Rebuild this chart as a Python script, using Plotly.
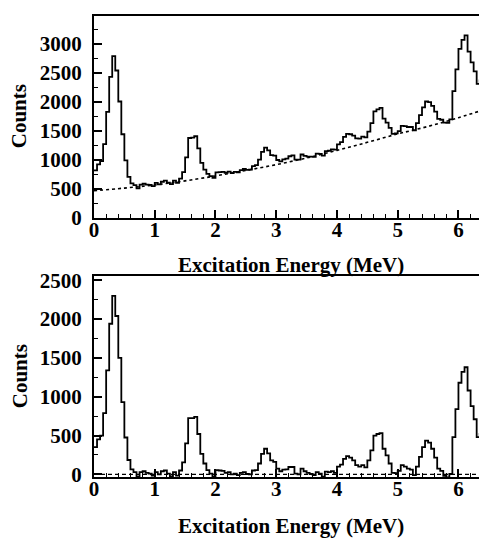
import numpy as np
import plotly.graph_objects as go

# ---------------- data ----------------
BIN_WIDTH = 0.05  # MeV, histogram bins start at 0

raw_counts = [
    815, 920, 975, 1270, 1825, 2430, 2790, 2540, 2005, 1440,
    990, 705, 590, 560, 505, 570, 585, 570, 565, 545,
    600, 575, 620, 640, 605, 580, 640, 600, 675, 785,
    1040, 1375, 1380, 1405, 1195, 945, 830, 755, 715, 685,
    780, 785, 790, 775, 795, 770, 790, 780, 820, 840,
    825, 830, 890, 905, 1000, 1135, 1210, 1160, 1080, 1070,
    995, 970, 1005, 1020, 1060, 1075, 1000, 1000, 1090, 1065,
    1055, 1055, 1050, 1105, 1100, 1070, 1150, 1155, 1180, 1175,
    1265, 1305, 1395, 1445, 1440, 1415, 1370, 1365, 1400, 1385,
    1485, 1630, 1835, 1870, 1895, 1710, 1640, 1550, 1445, 1455,
    1495, 1585, 1580, 1565, 1565, 1505, 1630, 1770, 1905, 2005,
    1995, 1930, 1830, 1705, 1690, 1640, 1635, 1695, 2185, 2560,
    2915, 3070, 3145, 2865, 2680, 2525, 2310, 2370, 2265, 2250,
]

net_counts = [
    350, 450, 500, 790, 1340, 1940, 2300, 2040, 1500, 930,
    475, 185, 65, 30, -30, 30, 40, 20, 10, -15,
    30, 0, 40, 50, 10, -25, 30, -15, 50, 155,
    400, 725, 725, 740, 520, 265, 140, 55, 10, -30,
    55, 50, 45, 20, 30, 0, 10, -10, 20, 30,
    5, 0, 50, 55, 140, 265, 330, 270, 180, 160,
    75, 40, 60, 65, 95, 95, 10, 0, 75, 40,
    20, 5, -10, 30, 10, -30, 35, 30, 40, 20,
    100, 125, 200, 235, 215, 180, 120, 100, 120, 90,
    180, 310, 500, 520, 530, 330, 245, 140, 20, 15,
    45, 120, 100, 75, 60, -10, 100, 225, 350, 435,
    410, 330, 215, 75, 45, -20, -40, 5, 480, 840,
    1180, 1320, 1380, 1080, 880, 710, 480, 520, 400, 370,
]

bg_energy = [0, 0.5, 1.0, 1.5, 2.0, 2.5, 3.0, 3.5, 4.0, 4.5, 5.0, 5.5, 6.0, 6.5]
bg_counts = [465, 510, 565, 635, 720, 815, 915, 1030, 1160, 1300, 1445, 1575, 1725, 1890]

zero_energy = [0, 6.5]
zero_counts = [0, 0]

x_tick_vals = [0, 1, 2, 3, 4, 5, 6]
top_y_ticks = [0, 500, 1000, 1500, 2000, 2500, 3000]
bot_y_ticks = [0, 500, 1000, 1500, 2000, 2500]

x_title = "Excitation Energy (MeV)"
y_title = "Counts"

# ---------------- build histogram step coordinates ----------------
edges = np.arange(len(raw_counts) + 1) * BIN_WIDTH
step_x = list(edges)
raw_y = list(raw_counts) + [raw_counts[-1]]
net_y = list(net_counts) + [net_counts[-1]]

FONT = "Liberation Serif, Times New Roman, serif"

fig = go.Figure()
fig.add_trace(go.Scatter(x=step_x, y=raw_y, mode="lines", line=dict(shape="hv", color="black", width=1.8),
                         xaxis="x", yaxis="y", showlegend=False, hoverinfo="skip"))
fig.add_trace(go.Scatter(x=bg_energy, y=bg_counts, mode="lines",
                         line=dict(shape="spline", color="black", width=1.6, dash="3px,3px"),
                         xaxis="x", yaxis="y", showlegend=False, hoverinfo="skip"))
fig.add_trace(go.Scatter(x=zero_energy, y=zero_counts, mode="lines",
                         line=dict(color="black", width=1.2, dash="4px,3px"),
                         xaxis="x2", yaxis="y2", showlegend=False, hoverinfo="skip"))
fig.add_trace(go.Scatter(x=step_x, y=net_y, mode="lines", line=dict(shape="hv", color="black", width=1.8),
                         xaxis="x2", yaxis="y2", showlegend=False, hoverinfo="skip"))

tickfont = dict(family=FONT, size=21, color="black", weight="bold")

def xaxis_style(anchor):
    return dict(
        anchor=anchor, domain=[0, 1], range=[0, 6.47],
        showline=True, linecolor="black", linewidth=2, mirror=True,
        ticks="inside", ticklen=8, tickwidth=1.5, tickcolor="black",
        tickvals=x_tick_vals, tickfont=tickfont, ticklabelstandoff=-8,
        minor=dict(dtick=0.2, ticks="inside", ticklen=4, tickwidth=1.2, tickcolor="black"),
        showgrid=False, zeroline=False, fixedrange=True,
    )

def yaxis_style(anchor, domain, rng, tv):
    return dict(
        anchor=anchor, domain=domain, range=rng,
        showline=True, linecolor="black", linewidth=2, mirror=False,
        ticks="inside", ticklen=8, tickwidth=1.5, tickcolor="black",
        tickvals=tv, tickfont=tickfont, ticklabelstandoff=6,
        minor=dict(dtick=250, tick0=0, ticks="inside", ticklen=4, tickwidth=1.2, tickcolor="black"),
        showgrid=False, zeroline=False, fixedrange=True,
    )

# The page body has an 8px default margin, so the figure is made smaller and offset.
fig.update_layout(
    width=479, height=532,
    margin=dict(l=86, r=0, t=1, b=63),
    paper_bgcolor="white", plot_bgcolor="white",
    xaxis=xaxis_style("y"),
    yaxis=yaxis_style("x", [0.5626, 1.0], [0, 3481], top_y_ticks),
    xaxis2=xaxis_style("y2"),
    yaxis2=yaxis_style("x2", [0.0, 0.4353], [-34, 2551], bot_y_ticks),
    showlegend=False,
)

title_font = dict(family=FONT, size=21, color="black", weight="bold")
for ypos in (0.4595, -0.1068):
    fig.add_annotation(text=x_title, xref="paper", yref="paper", x=0.5, y=ypos,
                       xanchor="center", yanchor="middle", showarrow=False, font=title_font)
for ypos in (0.782, 0.218):
    fig.add_annotation(text=y_title, xref="paper", yref="paper", x=-0.189, y=ypos, textangle=-90,
                       xanchor="center", yanchor="middle", showarrow=False, font=title_font)

fig.write_html("out.html")
